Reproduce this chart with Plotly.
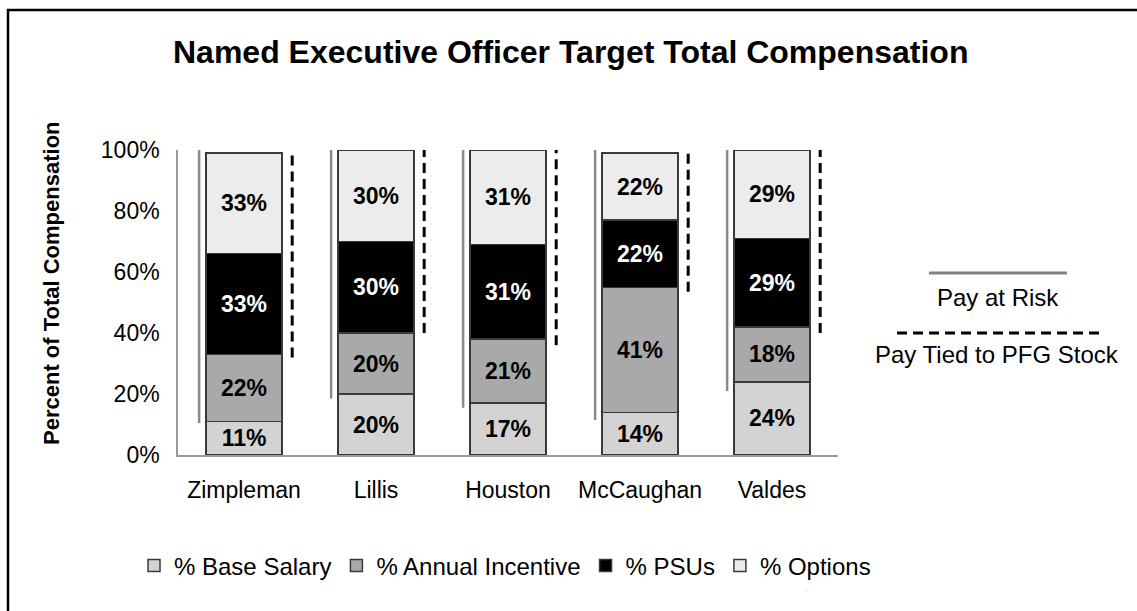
import plotly.graph_objects as go

# ---- data ----
names = ["Zimpleman", "Lillis", "Houston", "McCaughan", "Valdes"]
base_salary = [11, 20, 17, 14, 24]
annual_incentive = [22, 20, 21, 41, 18]
psus = [33, 30, 31, 22, 29]
options = [33, 30, 31, 22, 29]
# vertical bracket lines (percent values)
risk_from = [10.5, 18.5, 15.5, 11.5, 21]
stock_from = [32, 40, 36, 53.5, 40]
bracket_top = [100, 100, 100, 100, 100]
y_ticks = [0, 20, 40, 60, 80, 100]
y_tick_labels = [f"{v}%" for v in y_ticks]

series = [
    ("% Base Salary", base_salary, "#d3d3d3", "#000000"),
    ("% Annual Incentive", annual_incentive, "#a9a9a9", "#000000"),
    ("% PSUs", psus, "#000000", "#ffffff"),
    ("% Options", options, "#ececec", "#000000"),
]

FONT = "Liberation Sans, Arial, Helvetica, sans-serif"
W, H = 1137, 611
L, R, T, B = 178, 299, 150, 156
PW, PH = W - L - R, H - T - B


def px_x(p):
    return (p - L) / PW


def px_y(p):
    return (H - B - p) / PH


xs = list(range(len(names)))
BAR_W = 0.575

fig = go.Figure()
for name, vals, color, tcolor in series:
    fig.add_trace(go.Bar(
        x=xs, y=vals, name=name, width=BAR_W,
        marker=dict(color=color, line=dict(color="#3a3a3a", width=1.5)),
        text=[f"{v}%" for v in vals], textposition="inside",
        insidetextanchor="middle", textangle=0,
        textfont=dict(family=FONT, size=23, color=tcolor, weight="bold"),
        hoverinfo="skip",
    ))

# bracket lines
sx, sy, dx, dy = [], [], [], []
for i in xs:
    sx += [i - 0.34, i - 0.34, None]
    sy += [risk_from[i], bracket_top[i], None]
    dx += [i + 0.365, i + 0.365, None]
    dy += [stock_from[i], bracket_top[i], None]
fig.add_trace(go.Scatter(x=sx, y=sy, mode="lines", showlegend=False,
                         line=dict(color="#8a8a8a", width=2.5), cliponaxis=False, hoverinfo="skip"))
fig.add_trace(go.Scatter(x=dx, y=dy, mode="lines", showlegend=False,
                         line=dict(color="#000000", width=3, dash="10px,6px"), cliponaxis=False,
                         hoverinfo="skip"))

shapes = [
    # outer frame
    dict(type="rect", xref="paper", yref="paper",
         x0=px_x(8), x1=px_x(W + 20), y0=px_y(H + 20), y1=px_y(10),
         line=dict(color="#000000", width=2.5), fillcolor="rgba(0,0,0,0)", layer="below"),
    # right-side legend lines
    dict(type="line", xref="paper", yref="paper",
         x0=px_x(929), x1=px_x(1067), y0=px_y(273), y1=px_y(273),
         line=dict(color="#808080", width=3)),
    dict(type="line", xref="paper", yref="paper",
         x0=px_x(897), x1=px_x(1100), y0=px_y(333), y1=px_y(333),
         line=dict(color="#000000", width=3, dash="10px,6px")),
]

annotations = [
    dict(text="<b>Named Executive Officer Target Total Compensation</b>",
         xref="paper", yref="paper", x=px_x(570), y=px_y(52),
         xanchor="center", yanchor="middle", showarrow=False,
         font=dict(family=FONT, size=32, color="#000000")),
    dict(text="<b>Percent of Total Compensation</b>", textangle=-90,
         xref="paper", yref="paper", x=px_x(51), y=px_y(283),
         xanchor="center", yanchor="middle", showarrow=False,
         font=dict(family=FONT, size=22, color="#000000")),
    dict(text="Pay at Risk", xref="paper", yref="paper", x=px_x(998), y=px_y(297),
         xanchor="center", yanchor="middle", showarrow=False,
         font=dict(family=FONT, size=24, color="#000000")),
    dict(text="Pay Tied to PFG Stock", xref="paper", yref="paper", x=px_x(997), y=px_y(354),
         xanchor="center", yanchor="middle", showarrow=False,
         font=dict(family=FONT, size=24, color="#000000")),
]

fig.update_layout(
    width=W, height=H,
    margin=dict(l=L, r=R, t=T, b=B, pad=0),
    paper_bgcolor="#ffffff", plot_bgcolor="#ffffff",
    barmode="stack",
    font=dict(family=FONT, size=23, color="#000000"),
    showlegend=True,
    legend=dict(orientation="h", x=px_x(134), y=px_y(566), xanchor="left", yanchor="middle",
                font=dict(family=FONT, size=24, color="#000000"), traceorder="normal",
                itemwidth=30, bgcolor="rgba(0,0,0,0)"),
    xaxis=dict(range=[-0.5, len(names) - 0.5], tickmode="array", tickvals=xs, ticktext=names,
               showline=True, linecolor="#9a9a9a", linewidth=1.5, showgrid=False, zeroline=False,
               ticks="outside", ticklen=14, tickcolor="rgba(0,0,0,0)",
               tickfont=dict(family=FONT, size=23, color="#000000"), fixedrange=True),
    yaxis=dict(range=[0, 100], tickmode="array", tickvals=y_ticks, ticktext=y_tick_labels,
               showline=True, linecolor="#9a9a9a", linewidth=1.5, showgrid=False, zeroline=False,
               ticks="outside", ticklen=12, tickcolor="rgba(0,0,0,0)",
               tickfont=dict(family=FONT, size=23, color="#000000"), fixedrange=True),
    shapes=shapes,
    annotations=annotations,
    uniformtext=dict(minsize=23, mode="show"),
)

fig.write_html("out.html", config={"displayModeBar": False})
